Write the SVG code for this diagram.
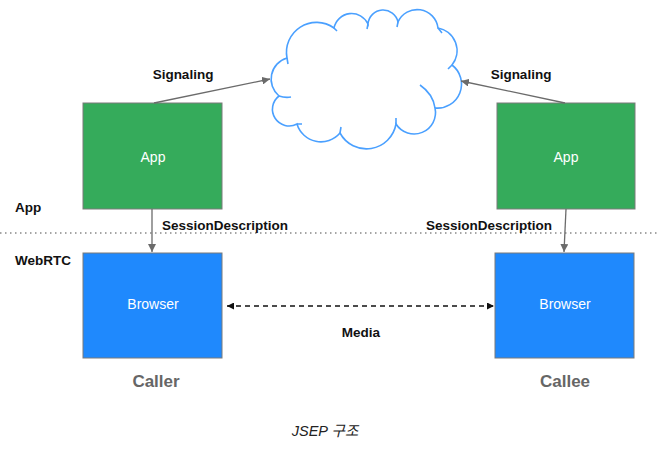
<svg xmlns="http://www.w3.org/2000/svg" width="659" height="450" viewBox="0 0 659 450">
<style>
.lbl{font-family:"Liberation Sans",Arial,sans-serif;font-weight:bold;font-size:13.5px;fill:#111}
.box{stroke:#7a7a7a;stroke-width:1}
.app{fill:#35ab5b}
.br{fill:#1f89fd}
.in{font-family:"Liberation Sans",Arial,sans-serif;font-size:14px;fill:#fff;text-anchor:middle}
.role{font-family:"Liberation Sans",Arial,sans-serif;font-weight:bold;font-size:17px;fill:#666;text-anchor:middle}
.con{stroke:#6b6b6b;stroke-width:1.3;fill:none}
.cl{fill:none;stroke:#4aa0ff;stroke-width:1.6}
</style>
<defs>
<marker id="ag" viewBox="0 0 10 10" refX="10" refY="5" markerWidth="8" markerHeight="8" markerUnits="userSpaceOnUse" orient="auto">
<path d="M0,0 L10,5 L0,10 z" fill="#6b6b6b"/>
</marker>
<marker id="ab" viewBox="0 0 10 10" refX="10" refY="5" markerWidth="7" markerHeight="7" markerUnits="userSpaceOnUse" orient="auto-start-reverse">
<path d="M0,0 L10,5 L0,10 z" fill="#111"/>
</marker>
</defs>
<rect width="659" height="450" fill="#fff"/>
<line x1="0" y1="233" x2="659" y2="233" stroke="#888" stroke-width="1.3" stroke-dasharray="1.5 3.5"/>
<text class="lbl" x="15" y="212">App</text>
<text class="lbl" x="15" y="265">WebRTC</text>
<g id="cloud">
<path class="cl" fill="#fff" style="fill:#fff" d="M279 96 A22 22 0 0 1 287 58 A30 30 0 0 1 334 28 A18 18 0 0 1 368 24 A15.2 15.2 0 0 1 398 22 A21 21 0 0 1 438 28 A23 23 0 0 1 452 65 A24 24 0 0 1 435 108 A21.4 21.4 0 0 1 396 124 A30 30 0 0 1 340 133 A25 25 0 0 1 297 124 A16.7 16.7 0 0 1 279 96 Z"/>
<path class="cl" d="M420 85 Q433 94 435 108 M279 96 Q285 98 291 97 M287 58 L288 64 M334 28 L337 31 M368 24 L367 29 M398 22 L397 27 M438 28 L442 33 M452 65 L448 69 M396 124 L396 118 M340 133 L341 127 M297 124 L302 124"/>
</g>
<g id="app-caller">
<rect class="box app" x="83" y="103" width="139" height="106"/>
<text class="in" x="153" y="162">App</text>
</g>
<g id="app-callee">
<rect class="box app" x="497" y="103" width="138" height="106"/>
<text class="in" x="566" y="162">App</text>
</g>
<g id="browser-caller">
<rect class="box br" x="83" y="253" width="139" height="105"/>
<text class="in" x="153" y="309">Browser</text>
</g>
<g id="browser-callee">
<rect class="box br" x="495" y="253" width="139" height="105"/>
<text class="in" x="565" y="309">Browser</text>
</g>
<g id="connectors">
<line class="con" x1="154" y1="103" x2="270" y2="79" marker-end="url(#ag)"/>
<line class="con" x1="565" y1="103" x2="461" y2="81" marker-end="url(#ag)"/>
<line class="con" x1="152" y1="209" x2="152" y2="252" marker-end="url(#ag)"/>
<line class="con" x1="566" y1="209" x2="564" y2="252" marker-end="url(#ag)"/>
<line x1="227" y1="306" x2="494" y2="306" stroke="#111" stroke-width="1.3" stroke-dasharray="5 4" marker-start="url(#ab)" marker-end="url(#ab)"/>
<text class="lbl" x="183" y="79" text-anchor="middle">Signaling</text>
<text class="lbl" x="521" y="79" text-anchor="middle">Signaling</text>
<text class="lbl" x="162" y="230">SessionDescription</text>
<text class="lbl" x="426" y="230">SessionDescription</text>
<text class="lbl" x="361" y="337" text-anchor="middle">Media</text>
</g>
<text class="role" x="156" y="387">Caller</text>
<text class="role" x="565" y="387">Callee</text>
<text x="325" y="436" text-anchor="middle" font-family="'Liberation Sans','Noto Sans CJK KR',sans-serif" font-style="italic" font-size="14.5" fill="#222">JSEP 구조</text>
</svg>
